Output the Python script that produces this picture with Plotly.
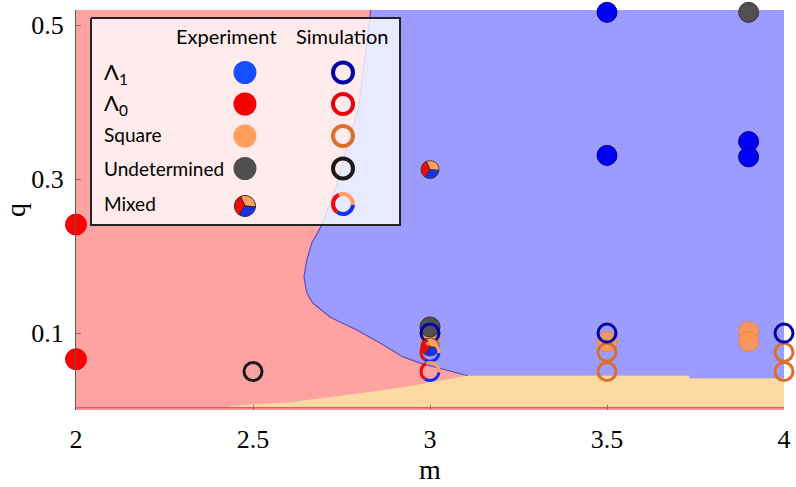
import plotly.graph_objects as go

# ---------------- data ----------------
# Lambda_1 / Lambda_0 phase boundary (top -> bottom)
lam1_boundary_m = [2.8325, 2.797, 2.768, 2.735, 2.694, 2.666, 2.652, 2.644, 2.652,
                   2.669, 2.717, 2.793, 2.859, 2.924, 2.972, 3.028, 3.107]
lam1_boundary_q = [0.52, 0.39, 0.347, 0.29, 0.240, 0.217, 0.195, 0.173, 0.152,
                   0.139, 0.121, 0.104, 0.087, 0.069, 0.061, 0.054, 0.0445]
# Square phase: upper edge of the wedge and the floor
square_top_m = [2.435, 2.613, 2.782, 2.934, 3.008, 3.107, 3.73, 3.735, 4.0]
square_top_q = [0.005, 0.0108, 0.0204, 0.0303, 0.0368, 0.0445, 0.0445, 0.041, 0.041]
square_floor_q = 0.004
floor_line_m = [2.0, 4.0]
floor_line_q = [0.003, 0.003]

# Experiment (filled markers)
exp_lam1_m = [3.5, 3.5, 3.9, 3.9]
exp_lam1_q = [0.517, 0.331, 0.349, 0.329]
exp_lam0_m = [2.0, 2.0]
exp_lam0_q = [0.241, 0.066]
exp_square_m = [3.0, 3.5, 3.9, 3.9]
exp_square_q = [0.093, 0.089, 0.102, 0.089]
exp_undet_m = [3.0, 3.9]
exp_undet_q = [0.108, 0.517]
exp_mixed_m = [3.0, 3.0]
exp_mixed_q = [0.3125, 0.082]

# Simulation (open markers)
sim_lam1_m = [3.0, 3.5, 4.0]
sim_lam1_q = [0.1, 0.1, 0.1]
sim_square_m = [3.5, 3.5, 4.0, 4.0]
sim_square_q = [0.075, 0.05, 0.075, 0.05]
sim_undet_m = [2.5]
sim_undet_q = [0.05]
sim_mixed_m = [3.0, 3.0]
sim_mixed_q = [0.075, 0.05]

x_ticks = [2, 2.5, 3, 3.5, 4]
x_ticklabels = ["2", "2.5", "3", "3.5", "4"]
y_ticks = [0.1, 0.3, 0.5]
y_ticklabels = ["0.1", "0.3", "0.5"]

legend_rows = ["Λ<sub>1</sub>", "Λ<sub>0</sub>", "Square", "Undetermined", "Mixed"]

# ---------------- styling ----------------
W_IMG, H_IMG = 796, 487
ML, MR, MT, MB = 76, 12, 10, 77
PW, PH = W_IMG - ML - MR, H_IMG - MT - MB
XR = [2, 4]
YR = [0, 0.52]

RED_BG = "rgb(255,162,162)"
BLUE_BG = "rgb(156,156,255)"
SQ_BG = "rgb(253,218,162)"
C_ORANGE = "rgb(255,160,92)"
C_RED = "rgb(240,10,10)"
C_BLUE = "rgb(20,50,235)"
C_MIX = [C_ORANGE, C_BLUE, C_RED]

fig = go.Figure()

# regions
blue_m = lam1_boundary_m + square_top_m[5:] + [4.0, lam1_boundary_m[0]]
blue_q = lam1_boundary_q + square_top_q[5:] + [YR[1], YR[1]]
fig.add_trace(go.Scatter(x=blue_m, y=blue_q, mode="lines", fill="toself",
                         fillcolor=BLUE_BG, line=dict(width=0), hoverinfo="skip"))
fig.add_trace(go.Scatter(x=lam1_boundary_m, y=lam1_boundary_q, mode="lines",
                         line=dict(color="rgba(95,60,170,0.85)", width=1.2), hoverinfo="skip"))
sq_m = square_top_m + [4.0, square_top_m[0]]
sq_q = square_top_q + [square_floor_q, square_floor_q]
fig.add_trace(go.Scatter(x=sq_m, y=sq_q, mode="lines", fill="toself",
                         fillcolor=SQ_BG, line=dict(width=0), hoverinfo="skip"))
fig.add_trace(go.Scatter(x=floor_line_m, y=floor_line_q, mode="lines",
                         line=dict(color="rgb(225,90,100)", width=1.5), hoverinfo="skip"))


def filled(xs, ys, color, edge, size=20):
    fig.add_trace(go.Scatter(x=xs, y=ys, mode="markers", cliponaxis=False, hoverinfo="skip",
                             marker=dict(size=size, color=color, line=dict(color=edge, width=1))))


def ring(xs, ys, color, size=18, width=3):
    fig.add_trace(go.Scatter(x=xs, y=ys, mode="markers", cliponaxis=False, hoverinfo="skip",
                             marker=dict(size=size, color="rgba(0,0,0,0)", symbol="circle",
                                         line=dict(color=color, width=width))))


filled(exp_lam0_m, exp_lam0_q, "rgb(255,0,0)", "rgb(220,0,0)", 21)
filled(exp_square_m, exp_square_q, "rgba(255,150,80,0.9)", "rgba(230,130,70,0.9)")
filled(exp_undet_m, exp_undet_q, "rgb(80,80,80)", "rgb(50,50,50)")
filled(exp_lam1_m, exp_lam1_q, "rgb(0,0,250)", "rgb(0,0,130)")
ring(sim_undet_m, sim_undet_q, "rgb(25,25,25)")
ring(sim_square_m, sim_square_q, "rgb(220,110,45)")
ring(sim_lam1_m, sim_lam1_q, "rgb(0,0,170)")


def pie_at(px, py, d, hole=0.0, line_w=0.0):
    x0 = (px - d / 2 - ML) / PW
    x1 = (px + d / 2 - ML) / PW
    y0 = (H_IMG - MB - (py + d / 2)) / PH
    y1 = (H_IMG - MB - (py - d / 2)) / PH
    fig.add_trace(go.Pie(values=[1, 1, 1], sort=False, direction="clockwise", rotation=-25,
                         hole=hole, textinfo="none", hoverinfo="skip", showlegend=False,
                         domain=dict(x=[x0, x1], y=[y0, y1]),
                         marker=dict(colors=C_MIX, line=dict(color="rgb(60,40,40)", width=line_w))))


def to_px(m, q):
    px = ML + (m - XR[0]) / (XR[1] - XR[0]) * PW
    py = MT + (YR[1] - q) / (YR[1] - YR[0]) * PH
    return px, py


for m, q in zip(exp_mixed_m, exp_mixed_q):
    px, py = to_px(m, q)
    pie_at(px, py, 18, 0.0, 0.8)
for m, q in zip(sim_mixed_m, sim_mixed_q):
    px, py = to_px(m, q)
    pie_at(px, py, 21, 0.70, 0)

# ---------------- legend box (overlay axes in pixel units) ----------------
fig.add_trace(go.Scatter(x=[91, 400, 400, 91, 91], y=[18, 18, 225, 225, 18], xaxis="x2", yaxis="y2",
                         mode="lines", fill="toself", fillcolor="rgba(255,255,255,0.78)",
                         line=dict(color="rgb(35,35,35)", width=2), hoverinfo="skip"))
leg_y = [72.5, 104, 136, 168.5]
exp_leg_colors = ["rgb(20,80,255)", "rgb(245,0,0)", "rgb(255,158,90)", "rgb(78,78,78)"]
sim_leg_colors = ["rgb(0,0,168)", "rgb(232,0,10)", "rgb(218,112,44)", "rgb(25,25,25)"]
fig.add_trace(go.Scatter(x=[245] * 4, y=leg_y, xaxis="x2", yaxis="y2", mode="markers",
                         marker=dict(size=23, color=exp_leg_colors), hoverinfo="skip"))
fig.add_trace(go.Scatter(x=[343] * 4, y=leg_y, xaxis="x2", yaxis="y2", mode="markers",
                         marker=dict(size=20, color="rgba(0,0,0,0)",
                                     line=dict(color=sim_leg_colors, width=4)), hoverinfo="skip"))
pie_at(245, 206, 21, 0.0, 1)
pie_at(343, 204, 24, 0.66, 0)

LEG_FONT = "Lato, Noto Sans, sans-serif"
ann = [
    dict(x=226, y=36, text="Experiment", showarrow=False, xref="x2", yref="y2",
         font=dict(family=LEG_FONT, size=20, color="black")),
    dict(x=342, y=36, text="Simulation", showarrow=False, xref="x2", yref="y2",
         font=dict(family=LEG_FONT, size=20, color="black")),
]
row_y = [73, 104, 134, 168, 203]
for t, yy in zip(legend_rows, row_y):
    ann.append(dict(x=102, y=yy, text=t, showarrow=False, xref="x2", yref="y2", xanchor="left",
                    font=dict(family=LEG_FONT, size=22 if "Λ" in t else 19, color="black")))

fig.update_layout(
    width=W_IMG, height=H_IMG,
    margin=dict(l=ML, r=MR, t=MT, b=MB),
    paper_bgcolor="white", plot_bgcolor=RED_BG,
    showlegend=False,
    annotations=ann,
    xaxis=dict(range=XR, tickvals=x_ticks, ticktext=x_ticklabels, ticks="inside", ticklen=5,
               tickcolor="rgb(120,120,120)", showgrid=False, zeroline=False, showline=False,
               automargin=False, ticklabelstandoff=11,
               tickfont=dict(family="Liberation Serif", size=26, color="black"),
               title=dict(text="m", font=dict(family="Liberation Serif", size=28, color="black"),
                          standoff=0)),
    yaxis=dict(range=YR, tickvals=y_ticks, ticktext=y_ticklabels, ticks="inside", ticklen=5,
               tickcolor="rgb(120,120,120)", showgrid=False, zeroline=False, showline=True,
               linecolor="rgb(90,90,90)", linewidth=1,
               automargin=False, ticklabelstandoff=6,
               tickfont=dict(family="Liberation Serif", size=26, color="black"),
               title=dict(text="q", font=dict(family="Liberation Serif", size=28, color="black"),
                          standoff=24)),
    xaxis2=dict(range=[ML, W_IMG - MR], overlaying="x", anchor="y2", visible=False),
    yaxis2=dict(range=[H_IMG - MB, MT], overlaying="y", anchor="x2", visible=False),
)

fig.write_html("out.html",
               config={"displayModeBar": False},
               post_script="document.documentElement.style.margin='0px';"
                           "document.body.style.margin='0px';"
                           "document.body.style.overflow='hidden';")
